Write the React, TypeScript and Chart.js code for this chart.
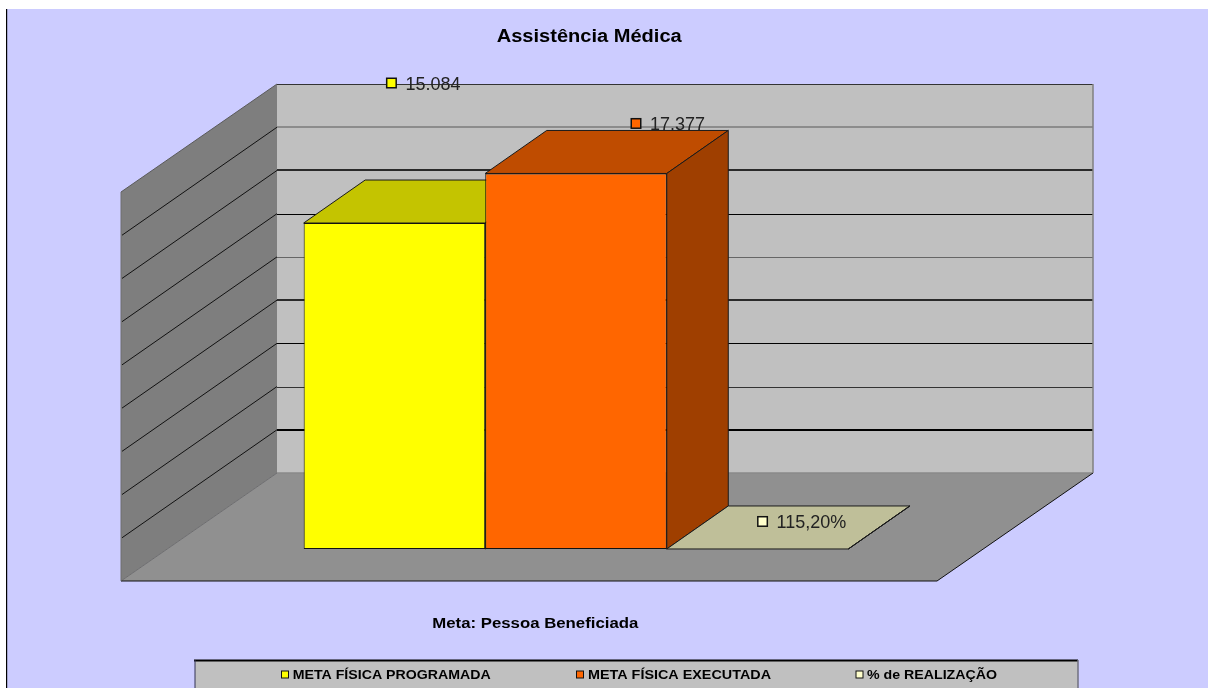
import React, { useEffect, useRef } from "react";
import { Chart, registerables } from "chart.js";

Chart.register(...registerables);

const categories = ["Meta: Pessoa Beneficiada"];
const seriesNames = ["META FÍSICA PROGRAMADA", "META FÍSICA EXECUTADA", "% de REALIZAÇÃO"];
const programada = [15084];
const executada = [17377];
const realizacao = [1.152];
const valueLabels = ["15.084", "17.377", "115,20%"];
const titleText = "Assistência Médica";
const axisMax = 18000;
const axisStep = 2000;

const frontColors = ["#FFFF00", "#FF6600", "#FFFFCC"];
const topColors = ["#C4C400", "#BF4C00", "#BFBF99"];
const sideColors = ["#9F9F00", "#9F3F00", "#9F9F80"];
const gridShades = ["#333333", "#8C8C8C", "#2A2A2A", "#000000", "#666666", "#2A2A2A", "#000000", "#333333", "#000000"];
const gridWidths = [1, 2, 2, 1, 1, 2, 1, 1, 2];

const FONT = '"Liberation Sans", Arial, sans-serif';
const BAR_DEPTH = { dx: 61.5, dy: -43 };
const BACK = { dx: 109, dy: -76 };
const FRONT = { dx: -47, dy: 32 };
const labelOffsets = [
  { x: -3, y: -140 },
  { x: 60, y: -50 },
  { x: 5, y: -27.5 },
];
const labelOnTop = [false, false, true];
const legendMarkers = [285, 580, 859.5];
const legendTextLeft = [292.7, 588, 867];
const legendTextWidth = [198, 183, 130];

function poly(ctx: CanvasRenderingContext2D, pts: number[][], fill?: string, stroke?: string, lw = 1) {
  ctx.beginPath();
  pts.forEach((p, i) => (i ? ctx.lineTo(p[0], p[1]) : ctx.moveTo(p[0], p[1])));
  ctx.closePath();
  if (fill) {
    ctx.fillStyle = fill;
    ctx.fill();
  }
  if (stroke) {
    ctx.strokeStyle = stroke;
    ctx.lineWidth = lw;
    ctx.stroke();
  }
}

function line(ctx: CanvasRenderingContext2D, x0: number, y0: number, x1: number, y1: number, color: string, lw = 1) {
  ctx.beginPath();
  ctx.moveTo(x0, y0);
  ctx.lineTo(x1, y1);
  ctx.strokeStyle = color;
  ctx.lineWidth = lw;
  ctx.stroke();
}

function marker(ctx: CanvasRenderingContext2D, x: number, y: number, size: number, color: string, lw: number) {
  ctx.fillStyle = color;
  ctx.strokeStyle = "#111111";
  ctx.lineWidth = lw;
  ctx.fillRect(x - size / 2, y - size / 2, size, size);
  ctx.strokeRect(x - size / 2, y - size / 2, size, size);
}

// The reference's bold text is stretched sideways: fit it to the width.
function fitText(ctx: CanvasRenderingContext2D, text: string, left: number, y: number, width: number) {
  const natural = ctx.measureText(text).width;
  ctx.save();
  ctx.translate(left, y);
  ctx.scale(width / natural, 1);
  ctx.textAlign = "left";
  ctx.textBaseline = "middle";
  ctx.fillStyle = "#000000";
  ctx.fillText(text, 0, 0);
  ctx.restore();
}

function drawValueLabel(chart: any, i: number) {
  const ctx = chart.ctx;
  const bar = chart.getDatasetMeta(i).data[0];
  const off = labelOffsets[i];
  const cx = bar.x + off.x;
  const cy = bar.y + off.y;
  marker(ctx, cx, cy, 9.5, frontColors[i], 1.5);
  ctx.font = `18px ${FONT}`;
  ctx.fillStyle = "#222222";
  ctx.textAlign = "left";
  ctx.textBaseline = "middle";
  ctx.fillText(valueLabels[i], cx + 14, cy + 2);
}

const scene3d = {
  id: "scene3d",
  beforeDraw(chart: any) {
    const { ctx, width, height } = chart;
    ctx.save();
    ctx.fillStyle = "#FFFFFF";
    ctx.fillRect(0, 0, width, height);
    ctx.fillStyle = "#CCCCFF";
    ctx.fillRect(7, 9, width - 7, height - 9);
    ctx.fillStyle = "#000000";
    ctx.fillRect(6, 9, 1.2, height - 9);
    ctx.restore();
  },
  beforeDatasetsDraw(chart: any) {
    const { ctx, chartArea, scales } = chart;
    const yS = scales.y;
    const L = chartArea.left;
    const R = chartArea.right;
    const top = yS.getPixelForValue(axisMax);
    const zero = yS.getPixelForValue(0);
    ctx.save();

    // walls and floor
    poly(ctx, [[L + BACK.dx, top + BACK.dy], [R + BACK.dx, top + BACK.dy], [R + BACK.dx, zero + BACK.dy], [L + BACK.dx, zero + BACK.dy]], "#C0C0C0");
    poly(ctx, [[L + FRONT.dx, top + FRONT.dy], [L + BACK.dx, top + BACK.dy], [L + BACK.dx, zero + BACK.dy], [L + FRONT.dx, zero + FRONT.dy]], "#7E7E7E");
    poly(ctx, [[L + FRONT.dx, zero + FRONT.dy], [L + BACK.dx, zero + BACK.dy], [R + BACK.dx, zero + BACK.dy], [R + FRONT.dx, zero + FRONT.dy]], "#909090");

    // gridlines from the value axis
    yS.ticks.forEach((t: any) => {
      const y = yS.getPixelForValue(t.value);
      const idx = Math.round((axisMax - t.value) / axisStep);
      if (t.value === 0) {
        line(ctx, L + BACK.dx, y + BACK.dy, R + BACK.dx, y + BACK.dy, "#8A8A8A", 1.5);
        line(ctx, L + FRONT.dx, y + FRONT.dy, L + BACK.dx, y + BACK.dy, "#6E6E6E", 1);
        return;
      }
      const w = gridWidths[idx];
      const yb = y + BACK.dy;
      const crisp = w % 2 ? Math.round(yb) + 0.5 : Math.round(yb);
      line(ctx, L + BACK.dx, crisp, R + BACK.dx, crisp, gridShades[idx], w);
      if (t.value === axisMax) {
        line(ctx, L + FRONT.dx, y + FRONT.dy, L + BACK.dx, y + BACK.dy, "#5A5A5A", 1);
      } else {
        line(ctx, L + FRONT.dx + 1, y + FRONT.dy, L + BACK.dx, y + BACK.dy, "#111111", 1);
      }
    });

    // outer edges
    line(ctx, L + FRONT.dx, zero + FRONT.dy, R + FRONT.dx, zero + FRONT.dy, "#111111", 1);
    line(ctx, R + FRONT.dx, zero + FRONT.dy, R + BACK.dx, zero + BACK.dy, "#111111", 1);
    line(ctx, R + BACK.dx, top + BACK.dy, R + BACK.dx, zero + BACK.dy, "#808080", 1.5);
    line(ctx, L + FRONT.dx, top + FRONT.dy, L + FRONT.dx, zero + FRONT.dy, "#6E6E6E", 1);

    // labels that lie behind the bars
    labelOnTop.forEach((onTop, i) => {
      if (!onTop) drawValueLabel(chart, i);
    });

    // bar tops and sides
    chart.data.datasets.forEach((_: any, i: number) => {
      const bar = chart.getDatasetMeta(i).data[0];
      const hw = bar.width / 2;
      const x0 = bar.x - hw;
      const x1 = bar.x + hw;
      const yt = bar.y;
      const yb = bar.base;
      const { dx, dy } = BAR_DEPTH;
      poly(ctx, [[x0, yt], [x1, yt], [x1 + dx, yt + dy], [x0 + dx, yt + dy]], topColors[i], "#1A1A1A", 1);
      poly(ctx, [[x1, yt], [x1 + dx, yt + dy], [x1 + dx, yb + dy], [x1, yb]], sideColors[i], "#1A1A1A", 1);
    });
    ctx.restore();
  },
  afterDatasetsDraw(chart: any) {
    const { ctx } = chart;
    ctx.save();
    labelOnTop.forEach((onTop, i) => {
      if (onTop) drawValueLabel(chart, i);
    });

    // chart title
    ctx.font = `bold 18px ${FONT}`;
    fitText(ctx, titleText, 496.7, 37, 185);

    // category axis name
    ctx.font = `bold 14px ${FONT}`;
    fitText(ctx, categories[0], 432.3, 624, 206);

    // legend box
    ctx.fillStyle = "#C0C0C0";
    ctx.fillRect(195, 660, 883, 40);
    line(ctx, 194, 660.5, 1078, 660.5, "#000000", 2);
    line(ctx, 195, 660, 195, 700, "#333355", 1);
    line(ctx, 1078, 660, 1078, 700, "#707080", 1.5);
    ctx.font = `bold 13px ${FONT}`;
    chart.data.datasets.forEach((ds: any, i: number) => {
      marker(ctx, legendMarkers[i], 674.5, 7, frontColors[i], 1);
      fitText(ctx, ds.label, legendTextLeft[i], 675, legendTextWidth[i]);
    });
    ctx.restore();
  },
};

export default function App() {
  const ref = useRef<HTMLCanvasElement | null>(null);
  useEffect(() => {
    if (!ref.current) return;
    const chart = new Chart(ref.current, {
      type: "bar",
      data: {
        labels: categories,
        datasets: [programada, executada, realizacao].map((values, i) => ({
          label: seriesNames[i],
          data: values,
          backgroundColor: frontColors[i],
          borderColor: "#111111",
          borderWidth: 1,
          borderSkipped: false,
          barPercentage: 1,
          categoryPercentage: 0.6675,
        })),
      },
      options: {
        animation: false,
        responsive: false,
        layout: { padding: { left: 168, right: 224, top: 160, bottom: 139 } },
        plugins: { legend: { display: false }, title: { display: false }, tooltip: { enabled: false } },
        scales: {
          x: { display: false },
          y: { display: false, min: 0, max: axisMax, ticks: { stepSize: axisStep } },
        },
      },
      plugins: [scene3d],
    });
    return () => chart.destroy();
  }, []);
  return (
    <canvas
      ref={ref}
      width={1208}
      height={688}
      style={{ position: "fixed", left: 0, top: 0, width: 1208, height: 688, display: "block" }}
    />
  );
}
